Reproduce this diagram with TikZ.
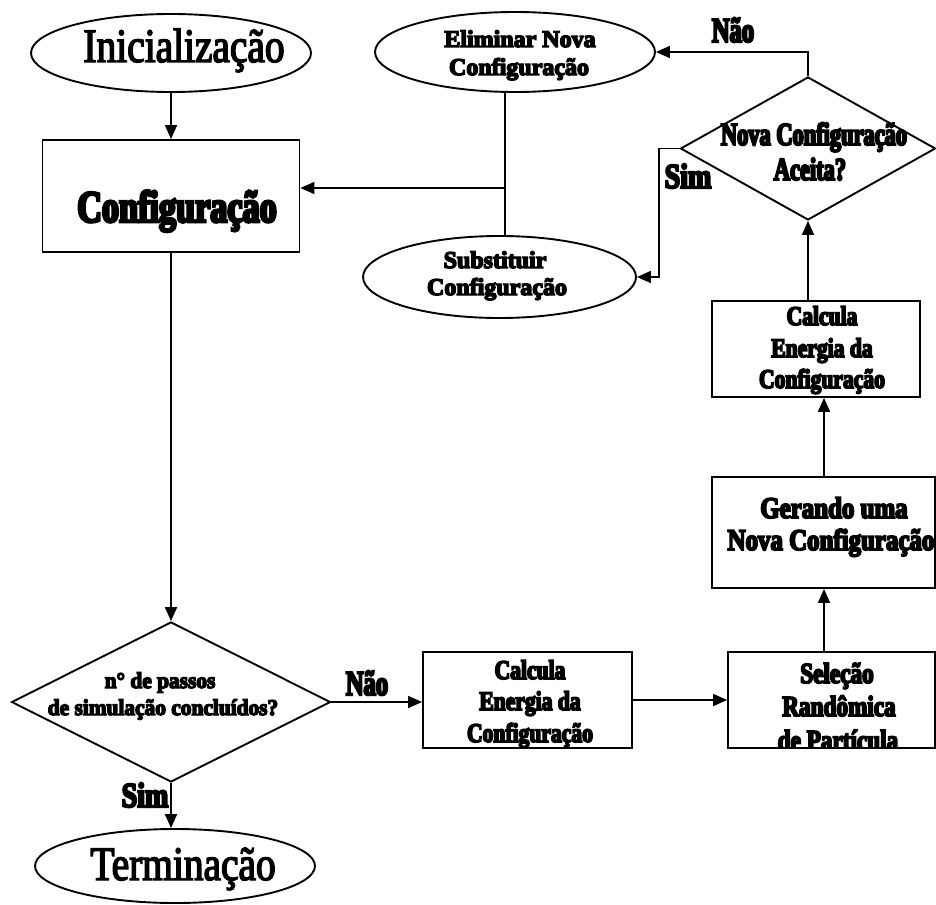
\documentclass[tikz,border=0pt]{standalone}
\usepackage{fontspec}
\setmainfont{Liberation Serif}
\newfontfamily\fReg[FakeStretch=0.82,FakeBold=3]{Liberation Serif}
\newfontfamily\fCfg[FakeStretch=0.76,FakeBold=6]{Liberation Serif}
\newfontfamily\fB[FakeBold=6]{Liberation Serif}
\newfontfamily\fDtwo[FakeStretch=0.7,FakeBold=6]{Liberation Serif}
\newfontfamily\fCalc[FakeStretch=0.8,FakeBold=6]{Liberation Serif}
\newfontfamily\fGer[FakeStretch=0.83,FakeBold=6]{Liberation Serif}
\newfontfamily\fSel[FakeStretch=0.8,FakeBold=6]{Liberation Serif}
\newfontfamily\fDone[FakeStretch=0.95,FakeBold=6]{Liberation Serif}
\newfontfamily\fNao[FakeStretch=0.7,FakeBold=6]{Liberation Serif}
\newfontfamily\fSim[FakeStretch=0.8,FakeBold=6]{Liberation Serif}
\usetikzlibrary{shapes.geometric,arrows.meta}
\begin{document}
\begin{tikzpicture}[x=1pt,y=-1pt,
  line width=1.9pt,
  arr/.style={-{Triangle[length=14pt,width=12pt]}},
  ell/.style={draw,ellipse,inner sep=0pt},
  box/.style={draw,rectangle,inner sep=0pt},
  dia/.style={draw,diamond,inner sep=0pt},
  txt/.style={anchor=base,inner sep=0pt},
  big/.style={txt,font=\fReg\fontsize{48}{48}\selectfont},
  cfg/.style={txt,font=\fCfg\bfseries\fontsize{45}{45}\selectfont},
  bn/.style={txt,font=\fB\bfseries\fontsize{24}{24}\selectfont},
  dtwo/.style={txt,font=\fDtwo\bfseries\fontsize{32}{32}\selectfont},
  calc/.style={txt,font=\fCalc\bfseries\fontsize{27}{27}\selectfont},
  ger/.style={txt,font=\fGer\bfseries\fontsize{30}{30}\selectfont},
  selt/.style={txt,font=\fSel\bfseries\fontsize{29}{29}\selectfont},
  done/.style={txt,font=\fDone\bfseries\fontsize{22.5}{22.5}\selectfont},
  nao/.style={txt,font=\fNao\bfseries\fontsize{35}{35}\selectfont},
  sim/.style={txt,font=\fSim\bfseries\fontsize{35}{35}\selectfont}
]
\useasboundingbox (0,0) rectangle (936,904);

% shapes
\node[ell,minimum width=280pt,minimum height=78pt] (init) at (171,53) {};
\node[box,minimum width=257pt,minimum height=112pt] (conf) at (171,196) {};
\node[ell,minimum width=280pt,minimum height=80pt] (elim) at (515,52) {};
\node[ell,minimum width=273pt,minimum height=82pt] (subs) at (499.5,277) {};
\node[dia,minimum width=255pt,minimum height=143pt] (dec2) at (808,148.5) {};
\node[box,minimum width=208pt,minimum height=96pt] (calc2) at (816,349) {};
\node[box,minimum width=223pt,minimum height=111pt] (ger) at (823.5,532.5) {};
\node[box,minimum width=207pt,minimum height=96pt] (sel) at (831.5,700) {};
\node[box,minimum width=209pt,minimum height=96pt] (calc1) at (527.5,700) {};
\node[dia,minimum width=319pt,minimum height=160pt] (dec1) at (171,702) {};
\node[ell,minimum width=280pt,minimum height=74pt] (term) at (175,866) {};

% texts
\node[big] (tinit) at (184,62) {Inicialização};
\node[cfg] (tconf) at (177,222) {Configuração};
\node[big] (tterm) at (183,880) {Terminação};
\node[bn] (te1) at (520,47) {Eliminar Nova};
\node[bn] (te2) at (519,75) {Configuração};
\node[bn] (ts1) at (495,268) {Substituir};
\node[bn] (ts2) at (497,295) {Configuração};
\node[dtwo] (td1) at (814,145) {Nova Configuração};
\node[dtwo] (td2) at (810,180) {Aceita?};
\node[calc] (tc1) at (822,325) {Calcula};
\node[calc] (tc2) at (822,357) {Energia da};
\node[calc] (tc3) at (822,388) {Configuração};
\node[ger] (tg1) at (834,518) {Gerando uma};
\node[ger] (tg2) at (831,550) {Nova Configuração};
\begin{scope}
\clip (sel.north west) rectangle (sel.south east);
\node[selt] (tr1) at (837,683) {Seleção};
\node[selt] (tr2) at (839,716) {Randômica};
\node[selt] (tr3) at (838,750) {de Partícula};
\end{scope}
\node[calc] (tb1) at (530,679) {Calcula};
\node[calc] (tb2) at (530,710) {Energia da};
\node[calc] (tb3) at (530,742) {Configuração};
\node[done] (tp1) at (160,688) {n° de passos};
\node[done] (tp2) at (163,715) {de simulação concluídos?};
\node[nao] (l1) at (733,42) {Não};
\node[sim] (l2) at (688,188) {Sim};
\node[nao] (l3) at (367,695) {Não};
\node[sim] (l4) at (145,807) {Sim};

% connectors
\coordinate (ax) at (824,0);
\coordinate (sx) at (659,0);
\coordinate (jn) at (505,188);
\draw[arr] (init.south) -- (init.south |- conf.north);
\draw[arr] (conf.south) -- (dec1.north);
\draw[arr] (dec1.south) -- (dec1.south |- term.north);
\draw[arr] (dec1.east) -- (dec1.east -| calc1.west);
\draw[arr] (calc1.east) -- (sel.west);
\draw[arr] (sel.north -| ax) -- (ger.south -| ax);
\draw[arr] (ger.north -| ax) -- (calc2.south -| ax);
\draw[arr] (calc2.north -| dec2.south) -- (dec2.south);
\draw[arr] (dec2.north) |- (elim.east);
\draw[arr] (dec2.west) -- (dec2.west -| sx) |- (subs.east);
\draw (jn |- elim.south) -- (jn |- subs.north);
\draw[arr] (jn) -- (jn -| conf.east);
\end{tikzpicture}
\end{document}
